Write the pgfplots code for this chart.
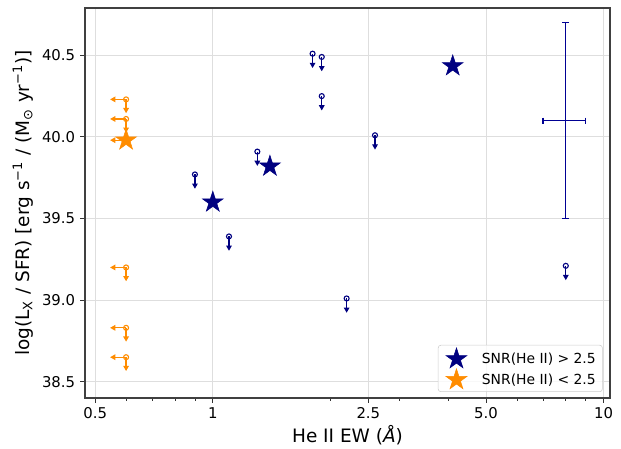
\documentclass[border=0pt]{standalone}
\usepackage{pgfplots}
\pgfplotsset{compat=1.18}
\usepackage{fontspec}
\setmainfont{DejaVu Sans}
\usetikzlibrary{arrows.meta}
\definecolor{navyc}{RGB}{0,0,128}
\definecolor{dorange}{RGB}{255,140,0}
\pgfdeclareplotmark{fstar}{%
 \pgfpathmoveto{\pgfpointpolar{90}{\pgfplotmarksize}}%
 \pgfpathlineto{\pgfpointpolar{126}{0.382\pgfplotmarksize}}%
 \pgfpathlineto{\pgfpointpolar{162}{\pgfplotmarksize}}%
 \pgfpathlineto{\pgfpointpolar{198}{0.382\pgfplotmarksize}}%
 \pgfpathlineto{\pgfpointpolar{234}{\pgfplotmarksize}}%
 \pgfpathlineto{\pgfpointpolar{270}{0.382\pgfplotmarksize}}%
 \pgfpathlineto{\pgfpointpolar{306}{\pgfplotmarksize}}%
 \pgfpathlineto{\pgfpointpolar{342}{0.382\pgfplotmarksize}}%
 \pgfpathlineto{\pgfpointpolar{18}{\pgfplotmarksize}}%
 \pgfpathlineto{\pgfpointpolar{54}{0.382\pgfplotmarksize}}%
 \pgfpathclose
 \pgfusepathqfillstroke}
\begin{document}
\begin{tikzpicture}
\useasboundingbox (-61.2pt,-36.72pt) rectangle (385.92pt,286.56pt);
\begin{axis}[
 scale only axis, width=378pt, height=280.8pt,
 xmode=log, xmin=0.471, xmax=10.38, ymin=38.40, ymax=40.79,
 xtick={0.5,1,2.5,5,10}, xticklabels={0.5,1,2.5,5.0,10},
 minor xtick={0.6,0.7,0.8,0.9,2,3,4,6,7,8,9},
 ytick={38.5,39,39.5,40,40.5},
 yticklabel style={/pgf/number format/fixed, /pgf/number format/fixed zerofill, /pgf/number format/precision=1},
 /pgf/number format/assume math mode=true,
 tick label style={font=\fontsize{10.7}{12}\selectfont},
 tick align=outside, tick pos=left,
 major tick length=3.6pt, minor tick length=2pt,
 every tick/.style={black!80, line width=0.6pt},
 xmajorgrids, ymajorgrids,
 major grid style={black!13, line width=0.6pt},
 axis line style={black!75, line width=0.8pt},
 xlabel={He II EW (\textit{Å})},
 ylabel={log(L\textsubscript{X} / SFR) [erg s\textsuperscript{−1} / (M\textsubscript{⊙} yr\textsuperscript{−1})]},
 every axis x label/.style={at={(axis description cs:0.5,-0.115)}, anchor=base, font=\fontsize{13.3}{15}\selectfont},
 every axis y label/.style={at={(axis description cs:-0.1181,0.5)}, anchor=center, rotate=90, font=\fontsize{13.3}{15}\selectfont},
 legend style={at={(axis description cs:0.9861,0.0154)}, anchor=south east, draw=black!20, rounded corners=2pt,
   fill=white, fill opacity=0.8, text opacity=1, font=\fontsize{10}{12}\selectfont,
   inner xsep=4.8pt, inner ysep=2pt, row sep=0.6pt, column sep=10.8pt,
   nodes={inner xsep=0pt}},
 legend cell align=left,
 legend image code/.code={\draw[#1, fill opacity=1, draw opacity=1] plot coordinates {(7.5pt,0pt)}; \path[draw=none,fill=none] (-0.9pt,0pt);},
]
% orange upper limits (x and y)
\addplot[dorange, only marks, mark=o, mark size=1.8pt, line width=0.8pt, forget plot,
  error bars/.cd, x dir=minus, x explicit, y dir=minus, y explicit, error mark=none,
  error bar style={line width=0.9pt, -{Triangle[length=3.8pt,width=4pt]}}]
 coordinates {
 (0.6,40.23) +- (0.054,0.085)
 (0.6,40.11) +- (0.054,0.085)
 (0.6,39.20) +- (0.054,0.085)
 (0.6,38.83) +- (0.054,0.085)
 (0.6,38.65) +- (0.054,0.085)
 };
% orange star: x upper limit arrow
\addplot[dorange, only marks, mark=none, forget plot,
  error bars/.cd, x dir=minus, x explicit, error mark=none,
  error bar style={line width=0.9pt, -{Triangle[length=3.8pt,width=4pt]}}]
 coordinates {(0.6,39.98) +- (0.054,0)};
% blue upper limits
\addplot[navyc, only marks, mark=o, mark size=1.8pt, line width=0.8pt, forget plot,
  error bars/.cd, y dir=minus, y explicit, error mark=none,
  error bar style={line width=0.9pt, -{Triangle[length=3.8pt,width=4pt]}}]
 coordinates {
 (1.80,40.51) +- (0,0.088)
 (1.90,40.49) +- (0,0.088)
 (1.90,40.25) +- (0,0.088)
 (2.60,40.01) +- (0,0.088)
 (1.30,39.91) +- (0,0.088)
 (0.90,39.77) +- (0,0.088)
 (1.10,39.39) +- (0,0.088)
 (2.20,39.01) +- (0,0.088)
 (8.00,39.21) +- (0,0.088)
 };
% typical error bar
\addplot[navyc!85!blue, line width=0.9pt, mark=-, mark size=2.4pt, mark options={solid, line width=0.9pt}, forget plot]
 coordinates {(8.0,39.50) (8.0,40.70)};
\addplot[navyc!85!blue, line width=0.9pt, mark=|, mark size=2.2pt, mark options={solid, line width=0.9pt}, forget plot]
 coordinates {(7.0,40.10) (9.0,40.10)};
% stars
\addplot[only marks, mark=fstar, mark size=7.9pt, draw=navyc, fill=navyc, forget plot]
 coordinates {(1.0,39.60) (1.40,39.82) (4.11,40.435)};
\addplot[only marks, mark=fstar, mark size=7.9pt, draw=dorange, fill=dorange, forget plot]
 coordinates {(0.6,39.98)};
\addlegendimage{only marks, mark=fstar, mark size=7.9pt, draw=navyc, fill=navyc}
\addlegendentry{SNR(He II) > 2.5}
\addlegendimage{only marks, mark=fstar, mark size=7.9pt, draw=dorange, fill=dorange}
\addlegendentry{SNR(He II) < 2.5}
\end{axis}
\end{tikzpicture}
\end{document}
